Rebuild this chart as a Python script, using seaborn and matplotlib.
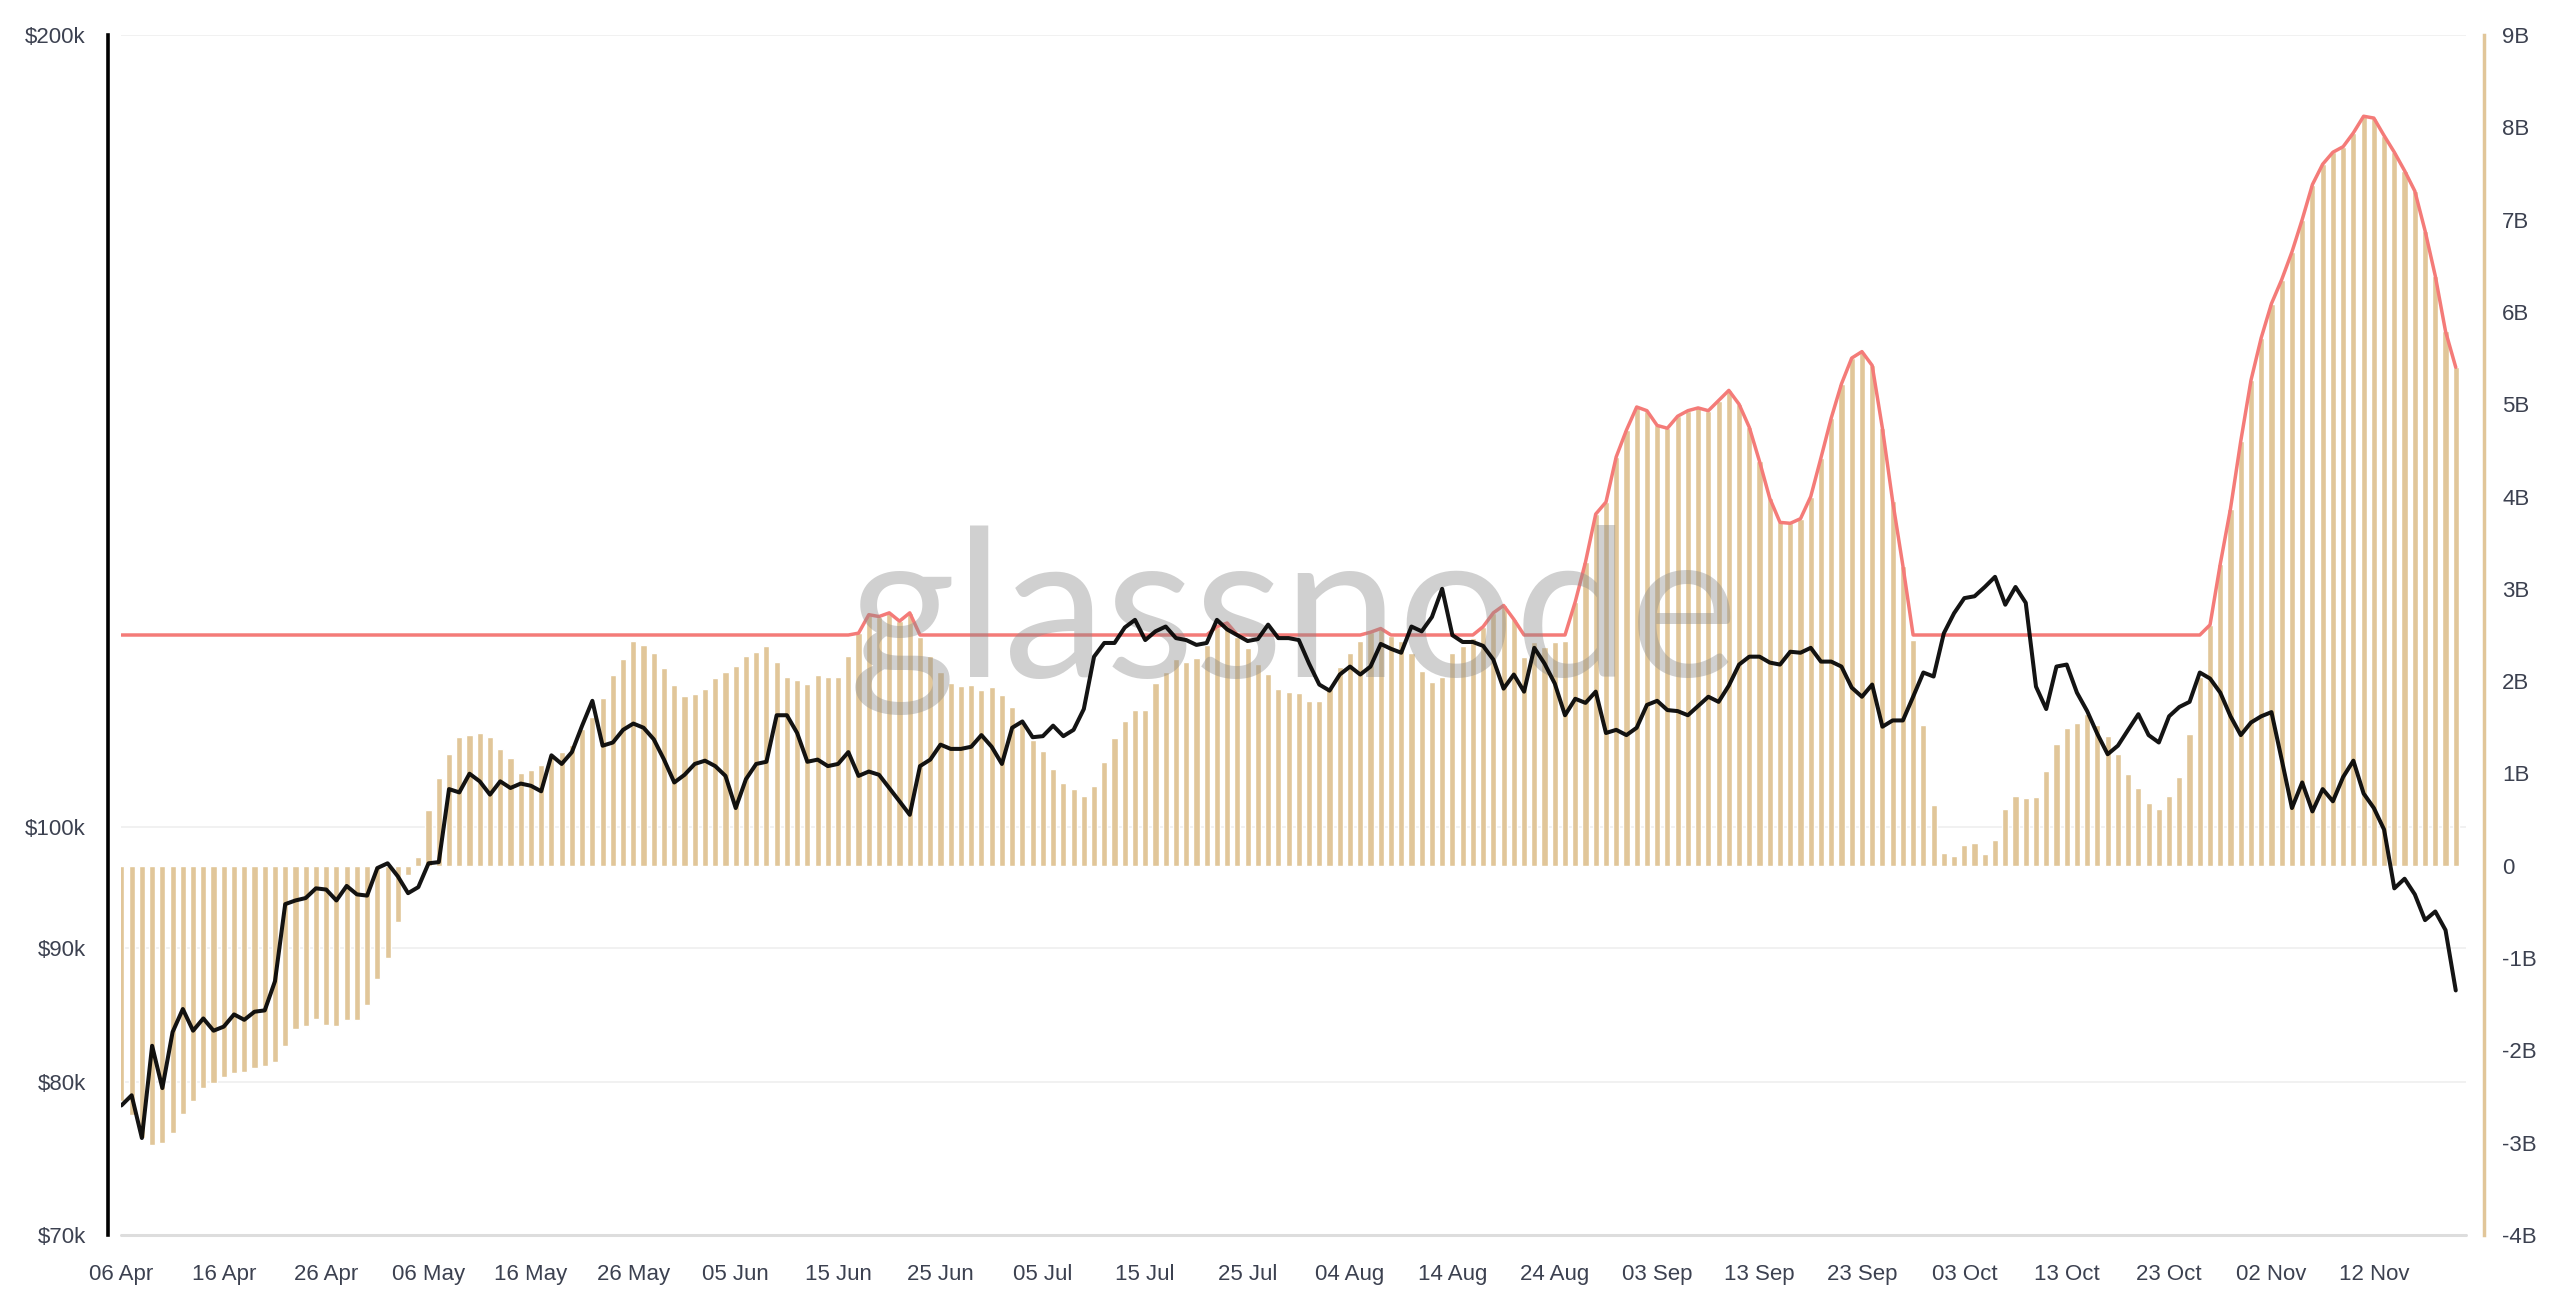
import numpy as np
import pandas as pd
import matplotlib
matplotlib.use('Agg')
import matplotlib.pyplot as plt
import seaborn as sns
from matplotlib.ticker import FixedLocator, NullLocator

# daily values, first day 06 Apr 2025
start_date = '2025-04-06'

# net flow, billions USD (bars, right axis)
flow_b = [
    -2.55, -2.70, -2.95, -3.03, -3.00, -2.89, -2.69, -2.55, -2.41, -2.35,
    -2.29, -2.25, -2.23, -2.19, -2.17, -2.13, -1.95, -1.77, -1.74, -1.66,
    -1.73, -1.74, -1.67, -1.67, -1.51, -1.23, -1.00, -0.61, -0.10, 0.10,
    0.60, 0.95, 1.21, 1.39, 1.42, 1.44, 1.39, 1.27, 1.17, 1.00,
    1.04, 1.09, 1.20, 1.23, 1.31, 1.48, 1.61, 1.82, 2.07, 2.24,
    2.44, 2.39, 2.30, 2.14, 1.96, 1.84, 1.86, 1.91, 2.03, 2.10,
    2.16, 2.27, 2.32, 2.38, 2.21, 2.05, 2.01, 1.97, 2.07, 2.04,
    2.05, 2.27, 2.52, 2.72, 2.70, 2.74, 2.65, 2.74, 2.48, 2.27,
    2.10, 1.98, 1.95, 1.96, 1.90, 1.94, 1.85, 1.72, 1.55, 1.36,
    1.24, 1.05, 0.90, 0.83, 0.76, 0.86, 1.12, 1.38, 1.57, 1.69,
    1.69, 1.98, 2.10, 2.24, 2.21, 2.25, 2.39, 2.59, 2.63, 2.48,
    2.36, 2.19, 2.08, 1.91, 1.88, 1.87, 1.79, 1.79, 1.93, 2.15,
    2.31, 2.44, 2.53, 2.57, 2.49, 2.44, 2.30, 2.11, 1.99, 2.04,
    2.30, 2.38, 2.47, 2.59, 2.74, 2.82, 2.67, 2.26, 2.42, 2.37,
    2.42, 2.44, 2.86, 3.29, 3.81, 3.94, 4.43, 4.72, 4.97, 4.93,
    4.77, 4.74, 4.87, 4.93, 4.96, 4.93, 5.04, 5.15, 5.00, 4.75,
    4.38, 3.98, 3.72, 3.71, 3.76, 4.00, 4.42, 4.85, 5.22, 5.50,
    5.57, 5.42, 4.74, 3.95, 3.25, 2.45, 1.52, 0.66, 0.14, 0.11,
    0.23, 0.25, 0.13, 0.28, 0.61, 0.76, 0.73, 0.74, 1.03, 1.32,
    1.49, 1.55, 1.64, 1.53, 1.41, 1.21, 0.99, 0.84, 0.68, 0.62,
    0.76, 0.96, 1.43, 2.04, 2.61, 3.27, 3.87, 4.60, 5.26, 5.72,
    6.09, 6.35, 6.65, 7.00, 7.38, 7.60, 7.73, 7.79, 7.94, 8.12,
    8.10, 7.91, 7.73, 7.53, 7.31, 6.88, 6.39, 5.79, 5.40,
]

# BTC price, thousands USD (black line, left axis)
price_k = [
    78.4, 79.1, 76.2, 82.6, 79.6, 83.6, 85.3, 83.7, 84.6, 83.7,
    84.0, 84.9, 84.5, 85.1, 85.2, 87.4, 93.5, 93.8, 94.0, 94.8,
    94.7, 93.8, 95.0, 94.3, 94.2, 96.5, 96.9, 95.8, 94.4, 94.9,
    96.9, 97.0, 103.4, 103.1, 104.8, 104.1, 102.9, 104.1, 103.5, 103.9,
    103.7, 103.2, 106.5, 105.7, 106.8, 109.3, 111.7, 107.4, 107.7, 108.9,
    109.5, 109.1, 108.0, 106.1, 104.0, 104.7, 105.7, 106.0, 105.5, 104.6,
    101.7, 104.3, 105.7, 105.9, 110.3, 110.3, 108.6, 105.9, 106.1, 105.5,
    105.7, 106.8, 104.6, 105.0, 104.7, 103.5, 102.3, 101.1, 105.5, 106.1,
    107.5, 107.1, 107.1, 107.3, 108.4, 107.3, 105.7, 109.1, 109.7, 108.2,
    108.3, 109.3, 108.3, 108.9, 110.9, 116.1, 117.5, 117.5, 119.1, 119.9,
    117.8, 118.7, 119.2, 118.0, 117.8, 117.3, 117.5, 119.9, 118.9, 118.3,
    117.7, 117.9, 119.4, 118.0, 118.0, 117.8, 115.4, 113.3, 112.7, 114.3,
    115.1, 114.3, 115.1, 117.4, 116.9, 116.5, 119.2, 118.7, 120.2, 123.2,
    118.3, 117.6, 117.6, 117.2, 115.8, 112.9, 114.3, 112.6, 117.0, 115.4,
    113.4, 110.3, 111.9, 111.5, 112.6, 108.6, 108.9, 108.4, 109.1, 111.3,
    111.7, 110.8, 110.7, 110.3, 111.2, 112.1, 111.6, 113.2, 115.3, 116.1,
    116.1, 115.5, 115.3, 116.6, 116.5, 117.0, 115.6, 115.6, 115.1, 113.0,
    112.1, 113.3, 109.2, 109.8, 109.8, 112.1, 114.5, 114.1, 118.5, 120.6,
    122.2, 122.4, 123.4, 124.5, 121.5, 123.4, 121.7, 113.1, 110.9, 115.1,
    115.3, 112.5, 110.7, 108.5, 106.6, 107.4, 108.9, 110.4, 108.4, 107.7,
    110.2, 111.1, 111.6, 114.5, 113.9, 112.5, 110.2, 108.4, 109.6, 110.2,
    110.6, 106.1, 101.7, 104.0, 101.4, 103.4, 102.3, 104.5, 106.0, 103.0,
    101.7, 99.8, 94.8, 95.6, 94.3, 92.2, 92.9, 91.4, 86.7,
]

# red band sits on a 2.5B floor and follows the bars above it
band_floor_b = 2.5

price_ticks = [70000, 80000, 90000, 100000, 200000]
price_labels = ['$70k', '$80k', '$90k', '$100k', '$200k']
flow_ticks = [-4e9, -3e9, -2e9, -1e9, 0, 1e9, 2e9, 3e9, 4e9, 5e9, 6e9, 7e9, 8e9, 9e9]
flow_labels = ['-4B', '-3B', '-2B', '-1B', '0', '1B', '2B', '3B', '4B', '5B', '6B', '7B', '8B', '9B']

TAN = '#E1C699'
RED = '#F47B78'
TXT = '#3c4150'

dates = pd.date_range(start_date, periods=len(flow_b), freq='D')
df = pd.DataFrame({
    'day': np.arange(len(flow_b)),
    'flow': np.array(flow_b) * 1e9,
    'price': np.array(price_k) * 1e3,
})
df['band'] = np.maximum(df['flow'], band_floor_b * 1e9)

sns.set_style('white')
plt.rcParams['font.family'] = ['Liberation Sans', 'DejaVu Sans']

fig = plt.figure(figsize=(25.6, 13.11), dpi=100)
ax = fig.add_axes([121.4 / 2560, 1 - 1235 / 1311, (2466 - 121.4) / 2560, 1200 / 1311])
ax_bar = ax.twinx()
ax_line = ax.twinx()

# bars + red band on the right (flow) axis
sns.barplot(data=df, x='day', y='flow', native_scale=True, width=0.6, color=TAN,
            saturation=1, errorbar=None, ax=ax_bar, zorder=1)
sns.lineplot(data=df, x='day', y='band', color=RED, lw=2.5, ax=ax_bar, zorder=3)
ax_bar.set_ylim(-4e9, 9e9)
ax_bar.yaxis.set_major_locator(FixedLocator(flow_ticks))
ax_bar.set_yticklabels(flow_labels)
ax_bar.tick_params(axis='y', length=0, pad=13, labelsize=16, labelcolor=TXT)
for s in ['top', 'bottom', 'left']:
    ax_bar.spines[s].set_visible(False)
ax_bar.spines['right'].set_position(('outward', 13))
ax_bar.spines['right'].set_color(TAN)
ax_bar.spines['right'].set_linewidth(2.5)
ax_bar.set_xlabel('')
ax_bar.set_ylabel('')

# price line on its own log axis above the bars
ax_line.text(0.5, 0.465, 'glassnode', transform=ax_line.transAxes, ha='center',
             va='baseline', fontsize=148, fontweight='normal',
             family=['Lato', 'DejaVu Sans'], color='#8a8a8a', alpha=0.4, zorder=1)
sns.lineplot(data=df, x='day', y='price', color='black', alpha=0.92, lw=2.9,
             ax=ax_line, zorder=3)
ax_line.set_yscale('log')
ax_line.set_ylim(70000, 200000)
ax_line.yaxis.set_visible(False)
for s in ax_line.spines.values():
    s.set_visible(False)
ax_line.set_xlabel('')
ax_line.set_ylabel('')

# base axis: left price scale, grid, dates
ax.set_yscale('log')
ax.set_ylim(70000, 200000)
ax.yaxis.set_major_locator(FixedLocator(price_ticks))
ax.yaxis.set_minor_locator(NullLocator())
ax.set_yticklabels(price_labels)
ax.tick_params(axis='y', length=0, pad=16, labelsize=16, labelcolor=TXT)
ax.grid(axis='y', color='#f0f0f0', lw=1.3)
ax.axhline(70000, color='#dddddd', lw=2.2, clip_on=False, zorder=2)
for s in ['top', 'bottom', 'right']:
    ax.spines[s].set_visible(False)
ax.spines['left'].set_position(('outward', 9.6))
ax.spines['left'].set_color('black')
ax.spines['left'].set_linewidth(2.6)

ax.set_xlim(0, 229)
tick_days = df['day'][::10]
ax.xaxis.set_major_locator(FixedLocator(list(tick_days)))
ax.set_xticklabels([dates[i].strftime('%d %b') for i in tick_days])
ax.tick_params(axis='x', length=14, width=1, color='#e6e6e6', pad=7,
               labelsize=16, labelcolor=TXT)
ax.set_xlabel('')
ax.set_ylabel('')

fig.savefig('out.png', dpi=100)
